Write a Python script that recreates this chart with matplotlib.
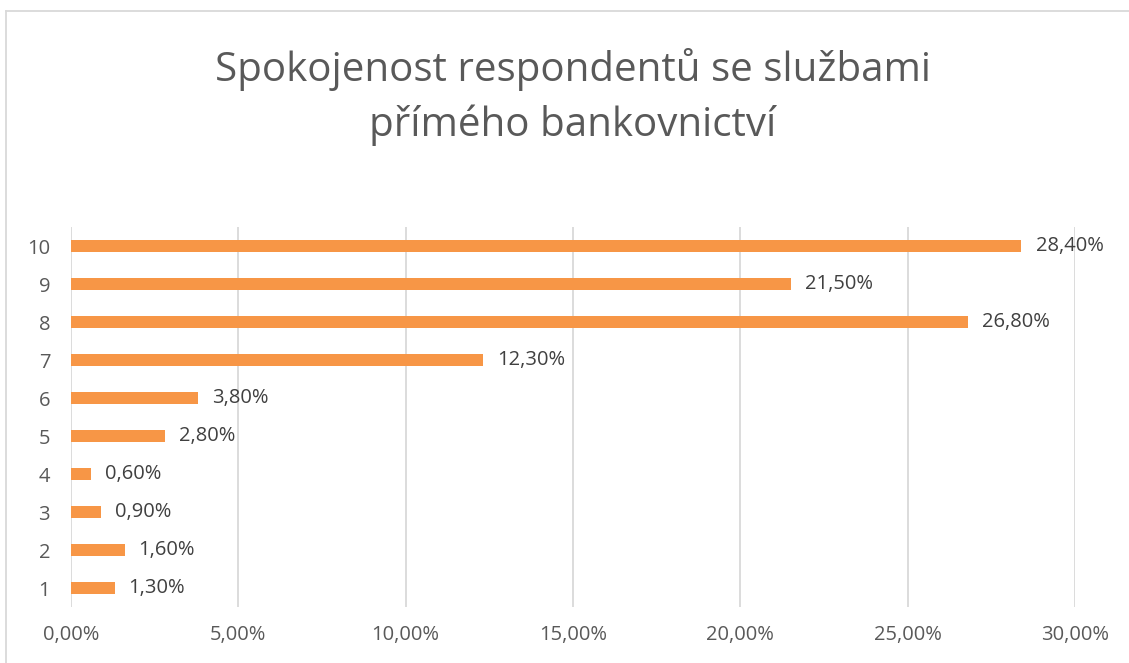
import matplotlib
matplotlib.use("Agg")
import matplotlib.pyplot as plt
from matplotlib.lines import Line2D

categories = ["1", "2", "3", "4", "5", "6", "7", "8", "9", "10"]
values = [1.30, 1.60, 0.90, 0.60, 2.80, 3.80, 12.30, 26.80, 21.50, 28.40]
xticks = [0, 5, 10, 15, 20, 25, 30]
title = "Spokojenost respondentů se službami\npřímého bankovnictví"

plt.rcParams['font.family'] = ['Open Sans', 'DejaVu Sans']
text_color = "#595959"
bar_color = "#F79646"
grid_color = "#D9D9D9"

fig = plt.figure(figsize=(11.29, 6.63), dpi=100)
ax = fig.add_axes([71/1129, 1-607/663, (1075-71)/1129, (607-227)/663])

ypos = list(range(1, len(categories) + 1))
ax.barh(ypos, values, height=0.34, color=bar_color, zorder=3)
for y, v in zip(ypos, values):
    ax.text(v + 0.42, y, f"{v:.2f}".replace(".", ",") + "%", va="center", ha="left",
            fontsize=14.5, color="#404040", zorder=4)

ax.set_xlim(0, 30)
ax.set_ylim(0.5, len(categories) + 0.5)
ax.set_xticks(xticks)
ax.set_xticklabels([f"{t:.2f}".replace(".", ",") + "%" for t in xticks])
ax.set_yticks(ypos)
ax.set_yticklabels(categories)
ax.tick_params(axis="both", length=0, labelsize=14.5, labelcolor=text_color)
ax.tick_params(axis="x", pad=13)
ax.tick_params(axis="y", pad=15)
ax.grid(axis="x", color=grid_color, linewidth=1.3, zorder=0)
for s in ax.spines.values():
    s.set_visible(False)

fig.text(573/1129, 1-97/663, title, ha="center", va="center", fontsize=29,
         color=text_color, linespacing=1.4)

# chart border
fig.add_artist(Line2D([6/1129, 6/1129], [0, 1-11/663], transform=fig.transFigure,
                      color=grid_color, linewidth=1.3))
fig.add_artist(Line2D([6/1129, 1], [1-11/663, 1-11/663], transform=fig.transFigure,
                      color=grid_color, linewidth=1.3))

fig.savefig("out.png", dpi=100)
